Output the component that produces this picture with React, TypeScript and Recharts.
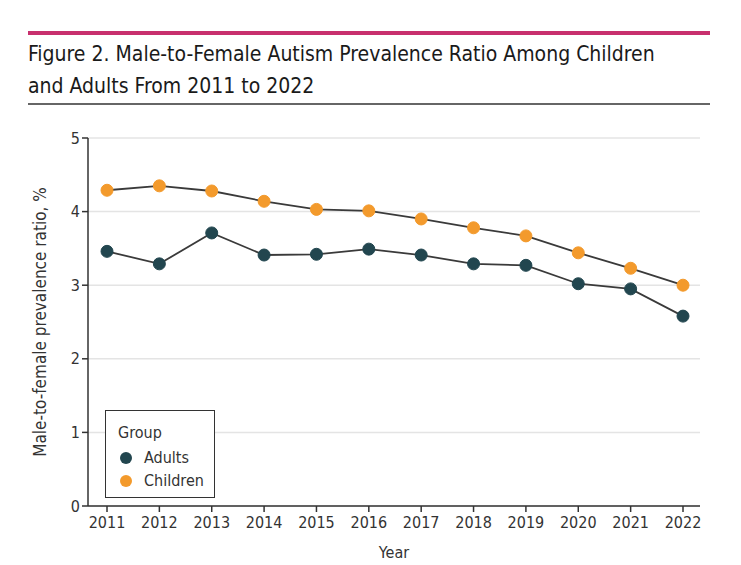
import React from 'react';
import { LineChart, Line, XAxis, YAxis, CartesianGrid } from 'recharts';

const years = [2011, 2012, 2013, 2014, 2015, 2016, 2017, 2018, 2019, 2020, 2021, 2022];
const adults = [3.46, 3.29, 3.71, 3.41, 3.42, 3.49, 3.41, 3.29, 3.27, 3.02, 2.95, 2.58];
const children = [4.29, 4.35, 4.28, 4.14, 4.03, 4.01, 3.9, 3.78, 3.67, 3.44, 3.23, 3.0];
const yTicks = [0, 1, 2, 3, 4, 5];

const ADULT_COLOR = '#22464f';
const CHILD_COLOR = '#f39a2c';
const FONT = "'Liberation Sans Narrow', 'DejaVu Sans Condensed', 'Roboto', sans-serif";

const data = years.map((year, i) => ({ year, Adults: adults[i], Children: children[i] }));

const LegendBox = () => (
  <div
    style={{
      position: 'absolute',
      left: 105,
      top: 410,
      border: '1.5px solid #333',
      width: 110,
      height: 88,
      boxSizing: 'border-box',
      background: '#fff',
      padding: '10px 0 0 12px',
      fontFamily: FONT,
      fontSize: 16,
      color: '#333',
      lineHeight: '23px',
    }}
  >
    <div style={{ marginBottom: 2 }}>Group</div>
    {[
      ['Adults', ADULT_COLOR],
      ['Children', CHILD_COLOR],
    ].map(([name, color]) => (
      <div key={name} style={{ display: 'flex', alignItems: 'center' }}>
        <span
          style={{
            width: 12,
            height: 12,
            borderRadius: 6,
            background: color,
            display: 'inline-block',
            marginLeft: 2,
            marginRight: 12,
          }}
        />
        {name}
      </div>
    ))}
  </div>
);

export default function App() {
  return (
    <div style={{ position: 'fixed', left: 0, top: 0, width: 741, height: 565, background: '#fff', fontFamily: FONT }}>
      <div style={{ position: 'absolute', left: 28, top: 31, width: 682, height: 4, background: '#c8306e' }} />
      <div
        style={{
          position: 'absolute',
          left: 28,
          top: 38,
          width: 690,
          fontSize: 21,
          lineHeight: '32px',
          color: '#1a1a1a',
          fontWeight: 500,
          fontFamily: FONT,
        }}
      >
        Figure 2. Male-to-Female Autism Prevalence Ratio Among Children
        <br />
        and Adults From 2011 to 2022
      </div>
      <div style={{ position: 'absolute', left: 28, top: 103, width: 682, height: 2, background: '#666' }} />
      <div style={{ position: 'absolute', left: 0, top: 0 }}>
        <LineChart width={741} height={565} data={data} margin={{ top: 138, right: 41, bottom: 7, left: 58 }}>
          <CartesianGrid vertical={false} stroke="#e4e4e4" strokeWidth={1.5} />
          <XAxis
            dataKey="year"
            type="category"
            padding={{ left: 19, right: 17 }}
            height={52}
            stroke="#333"
            strokeWidth={1.5}
            tickSize={6}
            tick={{ fill: '#333', fontSize: 16, fontFamily: FONT, dy: 3 }}
            label={{ value: 'Year', position: 'insideBottom', offset: 0, fill: '#333', fontSize: 16, fontFamily: FONT }}
          />
          <YAxis
            domain={[0, 5]}
            ticks={yTicks}
            width={30}
            stroke="#333"
            strokeWidth={1.5}
            tickSize={6}
            tick={{ fill: '#333', fontSize: 16, fontFamily: FONT }}
            label={{
              value: 'Male-to-female prevalence ratio, %',
              angle: -90,
              position: 'insideLeft',
              offset: -18,
              style: { textAnchor: 'middle' },
              fill: '#333',
              fontSize: 17,
              fontFamily: FONT,
            }}
          />
          <Line
            dataKey="Children"
            stroke="#3a3a3a"
            strokeWidth={1.8}
            dot={{ r: 6, fill: CHILD_COLOR, stroke: CHILD_COLOR, strokeWidth: 1 }}
            isAnimationActive={false}
          />
          <Line
            dataKey="Adults"
            stroke="#3a3a3a"
            strokeWidth={1.8}
            dot={{ r: 6, fill: ADULT_COLOR, stroke: ADULT_COLOR, strokeWidth: 1 }}
            isAnimationActive={false}
          />
        </LineChart>
      </div>
      <LegendBox />
    </div>
  );
}
